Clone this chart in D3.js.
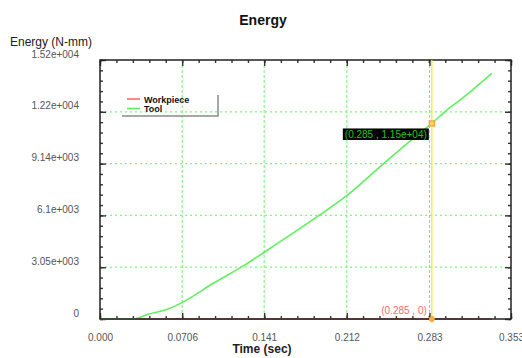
<!DOCTYPE html>
<html>
<head>
<meta charset="utf-8">
<script src="https://cdn.jsdelivr.net/npm/d3@7"></script>
<style>
  body { margin: 0; background: #fff; }
  svg { font-family: "Liberation Sans", Arial, sans-serif; }
</style>
</head>
<body>
<svg id="chart" width="522" height="358"></svg>
<script>
// data
var timeValues = [0, 0.028, 0.0415, 0.060, 0.0707, 0.0973, 0.1245, 0.1374, 0.1875, 0.2119, 0.2433, 0.2691, 0.285, 0.2978, 0.3092, 0.3365];
var toolEnergy = [0, 0, 280, 630, 980, 2100, 3180, 3760, 6060, 7250, 9120, 10630, 11500, 12290, 12880, 14450];
var workpieceEnergy = [0, 0, 0, 0, 0, 0, 0, 0, 0, 0, 0, 0, 0, 0, 0, 0];
var seriesNames = ['Workpiece', 'Tool'];
var xTickValues = [0, 0.0706, 0.141, 0.212, 0.283, 0.353];
var xTickLabels = ['0.000', '0.0706', '0.141', '0.212', '0.283', '0.353'];
var yTickValues = [0, 3047, 6093, 9140, 12187, 15233];
var yTickLabels = ['0', '3.05e+003', '6.1e+003', '9.14e+003', '1.22e+004', '1.52e+004'];
var cursorTime = 0.285;
var cursorTool = 11500;
var cursorWork = 0;

var margin = {top: 60, right: 11, bottom: 39, left: 100};
var width = 522 - margin.left - margin.right;
var height = 358 - margin.top - margin.bottom;

var svg = d3.select('#chart');
var g = svg.append('g').attr('transform', 'translate(' + margin.left + ',' + margin.top + ')');

var x = d3.scaleLinear().domain([0, 0.353]).range([0, width]);
var y = d3.scaleLinear().domain([0, 15233]).range([height, 0]);

// grid
g.append('g').selectAll('line.vg')
    .data(xTickValues.slice(1, -1))
    .enter().append('line')
    .attr('x1', function (d) { return x(d); })
    .attr('x2', function (d) { return x(d); })
    .attr('y1', 0).attr('y2', height)
    .attr('stroke', '#6cf56c').attr('stroke-width', 1)
    .attr('stroke-dasharray', '3,2');
g.append('g').selectAll('line.hg')
    .data(yTickValues.slice(1, -1))
    .enter().append('line')
    .attr('x1', 0).attr('x2', width)
    .attr('y1', function (d) { return y(d); })
    .attr('y2', function (d) { return y(d); })
    .attr('stroke', '#7cfa7c').attr('stroke-width', 1.2)
    .attr('stroke-dasharray', '2,3');

// minor tick positions (5 subdivisions between majors)
var xMinor = d3.range(0, 26).map(function (i) { return i * 0.0706 / 5; });
var yMinor = d3.range(0, 26).map(function (i) { return i * 3046.6 / 5; });

function styleAxis(sel) {
    sel.select('.domain').remove();
    sel.selectAll('line').attr('stroke', '#333').attr('stroke-width', 1.4);
}

// minor ticks
g.append('g').attr('transform', 'translate(0,' + height + ')')
    .call(d3.axisBottom(x).tickValues(xMinor).tickSize(-3).tickFormat(''))
    .call(styleAxis);
g.append('g')
    .call(d3.axisTop(x).tickValues(xMinor).tickSize(-3).tickFormat(''))
    .call(styleAxis);
g.append('g')
    .call(d3.axisLeft(y).tickValues(yMinor).tickSize(-3).tickFormat(''))
    .call(styleAxis);
g.append('g').attr('transform', 'translate(' + width + ',0)')
    .call(d3.axisRight(y).tickValues(yMinor).tickSize(-3).tickFormat(''))
    .call(styleAxis);

// major ticks with labels
var xAxis = g.append('g').attr('transform', 'translate(0,' + height + ')')
    .call(d3.axisBottom(x).tickValues(xTickValues).tickSize(-6).tickPadding(15)
        .tickFormat(function (d, i) { return xTickLabels[i]; }))
    .call(styleAxis);
xAxis.selectAll('text').attr('fill', '#555').style('font-size', '10px');

g.append('g')
    .call(d3.axisTop(x).tickValues(xTickValues).tickSize(-6).tickFormat(''))
    .call(styleAxis);

var yAxis = g.append('g')
    .call(d3.axisLeft(y).tickValues(yTickValues).tickSize(-6).tickPadding(21)
        .tickFormat(function (d, i) { return yTickLabels[i]; }))
    .call(styleAxis);
yAxis.selectAll('text').attr('fill', '#555').style('font-size', '10px').attr('dy', '-0.3em');

g.append('g').attr('transform', 'translate(' + width + ',0)')
    .call(d3.axisRight(y).tickValues(yTickValues).tickSize(-6).tickFormat(''))
    .call(styleAxis);

// series
var workData = timeValues.map(function (t, i) { return [t, workpieceEnergy[i]]; });
var toolData = timeValues.map(function (t, i) { return [t, toolEnergy[i]]; });
var line = d3.line()
    .curve(d3.curveMonotoneX)
    .x(function (d) { return x(d[0]); })
    .y(function (d) { return y(d[1]); });

g.append('path').datum(workData)
    .attr('d', line).attr('fill', 'none')
    .attr('stroke', '#e04848').attr('stroke-width', 1.5);
g.append('path').datum(toolData)
    .attr('d', line).attr('fill', 'none')
    .attr('stroke', '#5ff05f').attr('stroke-width', 1.6);

// frame
g.append('rect').attr('width', width).attr('height', height)
    .attr('fill', 'none').attr('stroke', '#222').attr('stroke-width', 1.5);

// cursor
g.append('line')
    .attr('x1', x(cursorTime)).attr('x2', x(cursorTime))
    .attr('y1', 0).attr('y2', height)
    .attr('stroke', '#ffe81a').attr('stroke-width', 1.2);

g.append('rect')
    .attr('x', x(cursorTime) - 2.5).attr('y', y(cursorTool) - 2.5)
    .attr('width', 5).attr('height', 5)
    .attr('fill', '#ffd080').attr('stroke', '#ff9a1a').attr('stroke-width', 1.2);
g.append('circle')
    .attr('cx', x(cursorTime)).attr('cy', y(cursorWork)).attr('r', 2.5)
    .attr('fill', '#ffb040').attr('stroke', '#ff9a1a');

// cursor labels
g.append('rect')
    .attr('x', x(cursorTime) - 89).attr('y', y(cursorTool) + 5)
    .attr('width', 86).attr('height', 11.5)
    .attr('fill', '#000');
g.append('text')
    .attr('x', x(cursorTime) - 46).attr('y', y(cursorTool) + 14.5)
    .attr('text-anchor', 'middle')
    .attr('fill', '#1ec81e').style('font-size', '10px')
    .text('(' + cursorTime + ' , ' + '1.15e+04' + ')');
g.append('text')
    .attr('x', x(cursorTime) - 5).attr('y', y(cursorWork) - 5.5)
    .attr('text-anchor', 'end')
    .attr('fill', '#ff6a6a').style('font-size', '10px')
    .text('(' + cursorTime + ' , ' + cursorWork + ')');

// legend
var legend = svg.append('g').attr('transform', 'translate(122,94)');
legend.append('path')
    .attr('d', 'M96,1 V22 H0')
    .attr('fill', 'none').attr('stroke', '#8a8a8a').attr('stroke-width', 1.5);
var legendColors = ['#ff6a6a', '#5ff05f'];
seriesNames.forEach(function (name, i) {
    legend.append('line')
        .attr('x1', 5).attr('x2', 18)
        .attr('y1', 5 + i * 9.5).attr('y2', 5 + i * 9.5)
        .attr('stroke', legendColors[i]).attr('stroke-width', 1.6);
    legend.append('text')
        .attr('x', 22).attr('y', 8.5 + i * 9.5)
        .style('font-size', '9px').style('font-weight', 'bold')
        .attr('fill', '#111')
        .text(name);
});

// titles
svg.append('text')
    .attr('x', 263).attr('y', 25)
    .attr('text-anchor', 'middle')
    .style('font-size', '14px').style('font-weight', 'bold')
    .attr('fill', '#111')
    .text('Energy');
svg.append('text')
    .attr('x', 10).attr('y', 46)
    .style('font-size', '12px')
    .attr('fill', '#222')
    .text('Energy (N-mm)');
svg.append('text')
    .attr('x', 262).attr('y', 353)
    .attr('text-anchor', 'middle')
    .style('font-size', '12px').style('font-weight', 'bold')
    .attr('fill', '#222')
    .text('Time (sec)');
</script>
</body>
</html>
